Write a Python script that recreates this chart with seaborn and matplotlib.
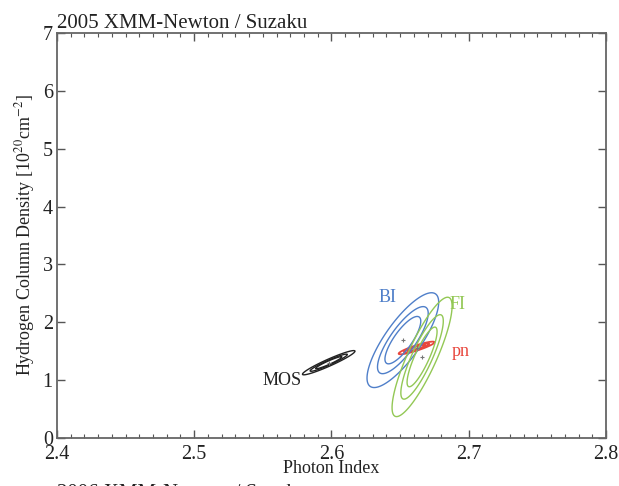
import numpy as np
import pandas as pd
import matplotlib
matplotlib.use('Agg')
import matplotlib.pyplot as plt
from matplotlib.ticker import MultipleLocator
import seaborn as sns


# best-fit values and error shape of each instrument
instruments = ['MOS', 'pn', 'BI', 'FI']
gamma_best = [2.598, 2.662, 2.652, 2.666]
nh_best = [1.30, 1.555, 1.69, 1.40]
gamma_sigma = [0.0063, 0.0043, 0.0086, 0.0072]
nh_sigma = [0.069, 0.036, 0.27, 0.34]
corr = [0.95, 0.90, 0.80, 0.85]
delta_chi2 = [2.30, 4.61, 9.21]

label_x = [2.564, 2.694, 2.641, 2.692]
label_y = [1.00, 1.49, 2.42, 2.30]
colors = {'MOS': '#222222', 'pn': '#e8453c', 'BI': '#4f7fc9', 'FI': '#93c855'}


def plot_contours(out_path: str = 'out.png') -> None:
    sns.set_theme(style='ticks')
    plt.rcParams['font.family'] = ['Liberation Serif', 'DejaVu Serif']
    plt.rcParams['mathtext.fontset'] = 'stix'

    fig = plt.figure(figsize=(6.19, 4.86), dpi=100)
    ax = fig.add_axes([0.092, 0.099, 0.887, 0.833])

    for i, name in enumerate(instruments):
        mx, my = gamma_best[i], nh_best[i]
        sx, sy, r = gamma_sigma[i], nh_sigma[i], corr[i]
        gx = np.linspace(mx - 4 * sx, mx + 4 * sx, 600)
        gy = np.linspace(my - 4 * sy, my + 4 * sy, 600)
        X, Y = np.meshgrid(gx, gy)
        u = (X - mx) / sx
        v = (Y - my) / sy
        chi = (u ** 2 - 2 * r * u * v + v ** 2) / (1 - r ** 2)
        lw = 1.3 if name == 'pn' else 1.0
        ax.contour(X, Y, chi, levels=delta_chi2, colors=colors[name], linewidths=lw)

    best = pd.DataFrame({'instrument': instruments, 'gamma': gamma_best, 'nh': nh_best})
    sns.scatterplot(data=best, x='gamma', y='nh', marker='+', color='#777777',
                    s=12, linewidth=0.8, ax=ax, legend=False, zorder=5)

    for i, name in enumerate(instruments):
        ax.text(label_x[i], label_y[i], name, color=colors[name], fontsize=13,
                ha='center', va='center')

    ax.set_xlim(2.4, 2.8)
    ax.set_ylim(0, 7)
    ax.xaxis.set_major_locator(MultipleLocator(0.1))
    ax.xaxis.set_minor_locator(MultipleLocator(0.01))
    ax.yaxis.set_major_locator(MultipleLocator(1))
    ax.tick_params(which='both', direction='in', top=True, right=True,
                   colors='#555555', labelcolor='#222222', labelsize=14.5)
    ax.tick_params(which='major', length=6, width=1)
    ax.tick_params(which='minor', length=3, width=0.8)
    ax.tick_params(axis='x', pad=5)
    ax.tick_params(axis='y', pad=3)
    for sp in ax.spines.values():
        sp.set_color('#666666')
        sp.set_linewidth(1.3)

    ax.set_xlabel('Photon Index', fontsize=13, labelpad=-3, color='#222222')
    ax.set_ylabel('Hydrogen Column Density [10$^{20}$cm$^{-2}$]', fontsize=13,
                  labelpad=4, color='#222222')
    ax.set_title('2005 XMM-Newton / Suzaku', fontsize=15, loc='left', pad=3,
                 color='#222222')

    # next panel's title, cut off at the bottom edge
    fig.text(0.092, 0.004, '2006 XMM-Newton / Suzaku', fontsize=15, va='top',
             color='#222222')

    fig.savefig(out_path, dpi=100)


if __name__ == '__main__':
    plot_contours()
